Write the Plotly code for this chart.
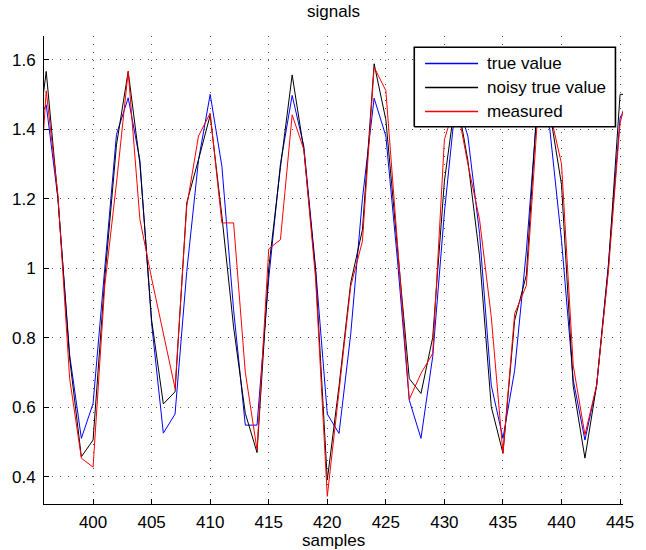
import plotly.graph_objects as go

samples = list(range(395, 447))

true_value = [1.40, 1.47, 1.20, 0.75, 0.51, 0.61, 1.00, 1.385, 1.49, 1.31,
              0.84, 0.525, 0.58, 0.99, 1.31, 1.50, 1.293, 0.88, 0.548, 0.548,
              0.97, 1.30, 1.497, 1.35, 1.00, 0.58, 0.524, 0.81, 1.20, 1.489,
              1.38, 1.02, 0.62, 0.51, 0.745, 1.16, 1.49, 1.38, 1.10, 0.663,
              0.51, 0.706, 1.05, 1.49, 1.40, 1.08, 0.678, 0.505, 0.663, 1.01,
              1.432, 1.50]

noisy_true_value = [1.30, 1.566, 1.20, 0.74, 0.457, 0.505, 0.97, 1.355, 1.566, 1.30,
                    0.85, 0.609, 0.644, 1.188, 1.312, 1.44, 1.15, 0.83, 0.582, 0.469,
                    1.00, 1.29, 1.556, 1.34, 0.99, 0.39, 0.66, 0.958, 1.11, 1.588,
                    1.427, 1.05, 0.682, 0.639, 0.80, 1.25, 1.50, 1.31, 1.035, 0.601,
                    0.467, 0.85, 0.98, 1.52, 1.45, 1.24, 0.66, 0.453, 0.663, 1.00,
                    1.50, 1.50]

measured = [1.00, 1.51, 1.21, 0.682, 0.453, 0.427, 0.95, 1.245, 1.566, 1.14,
            0.97, 0.81, 0.654, 1.178, 1.38, 1.446, 1.13, 1.13, 0.70, 0.477,
            1.055, 1.082, 1.441, 1.341, 0.97, 0.343, 0.64, 0.948, 1.077, 1.578,
            1.511, 1.08, 0.622, 0.697, 0.754, 1.37, 1.48, 1.30, 1.14, 0.86,
            0.467, 0.869, 0.95, 1.46, 1.45, 1.30, 0.72, 0.52, 0.663, 0.99,
            1.417, 1.55]

series_names = ["true value", "noisy true value", "measured"]
series_colors = ["rgb(0,0,255)", "rgb(0,0,0)", "rgb(255,0,0)"]
series_values = [true_value, noisy_true_value, measured]

x_ticks = [400, 405, 410, 415, 420, 425, 430, 435, 440, 445]
y_ticks = [0.4, 0.6, 0.8, 1.0, 1.2, 1.4, 1.6]
y_tick_labels = ["0.4", "0.6", "0.8", "1", "1.2", "1.4", "1.6"]

FONT = "Liberation Sans, Arial, Helvetica, sans-serif"

# plot area in pixels
L, R, T, B = 41, 631, 36, 504
W, H = 646, 550

# legend box geometry (pixels)
LEG_X0, LEG_X1, LEG_Y0, LEG_Y1 = 418.3, 623.3, 47.3, 126.7
LEG_LINE_X0, LEG_LINE_X1, LEG_TEXT_X = 429.3, 483.3, 490
LEG_ROWS = [63.5, 87.5, 111.5]


def px(xp):
    return (xp - L) / (R - L)


def py(yp):
    return (B - yp) / (B - T)


fig = go.Figure()
for name, color, vals in zip(series_names, series_colors, series_values):
    fig.add_trace(go.Scatter(x=samples, y=vals, mode="lines", name=name,
                             showlegend=False, hoverinfo="skip",
                             line=dict(color=color, width=1)))

# legend drawn on an overlay pixel-space axis, above the data
fig.add_trace(go.Scatter(x=[LEG_X0, LEG_X1, LEG_X1, LEG_X0, LEG_X0],
                         y=[LEG_Y1, LEG_Y1, LEG_Y0, LEG_Y0, LEG_Y1],
                         mode="lines", fill="toself", fillcolor="white",
                         line=dict(color="black", width=1.6),
                         xaxis="x2", yaxis="y2", showlegend=False, hoverinfo="skip"))
for color, row in zip(series_colors, LEG_ROWS):
    fig.add_trace(go.Scatter(x=[LEG_LINE_X0, LEG_LINE_X1], y=[row, row], mode="lines",
                             line=dict(color=color, width=1.3),
                             xaxis="x2", yaxis="y2", showlegend=False, hoverinfo="skip"))

axis_common = dict(
    showline=True, linecolor="black", linewidth=1,
    ticks="inside", ticklen=5, tickcolor="black", tickwidth=1,
    showgrid=True, gridcolor="#555555", gridwidth=1, griddash="1px,7px",
    zeroline=False, mirror=False,
    tickfont=dict(family=FONT, size=17, color="black"),
)

annotations = []
for name, row in zip(series_names, LEG_ROWS):
    annotations.append(dict(text=name, x=px(LEG_TEXT_X), y=py(row), xref="paper", yref="paper",
                            xanchor="left", yanchor="middle", showarrow=False,
                            font=dict(family=FONT, size=17, color="black")))
annotations.append(dict(text="signals", x=0.5, y=py(12), xref="paper", yref="paper",
                        xanchor="center", yanchor="middle", showarrow=False,
                        font=dict(family=FONT, size=17, color="black")))
annotations.append(dict(text="samples", x=0.5, y=py(540), xref="paper", yref="paper",
                        xanchor="center", yanchor="middle", showarrow=False,
                        font=dict(family=FONT, size=17, color="black")))

fig.update_layout(
    width=W, height=H,
    margin=dict(l=L, r=W - R, t=T, b=H - B),
    paper_bgcolor="white", plot_bgcolor="white",
    showlegend=False,
    xaxis=dict(range=[395.81, 445.25], tickvals=x_ticks, ticklabelstandoff=3, **axis_common),
    yaxis=dict(range=[0.321, 1.668], tickvals=y_ticks, ticktext=y_tick_labels,
               ticklabelstandoff=4, **axis_common),
    xaxis2=dict(overlaying="x", anchor="y2", range=[L, R], visible=False, fixedrange=True),
    yaxis2=dict(overlaying="y", anchor="x2", range=[B, T], visible=False, fixedrange=True),
    annotations=annotations,
)

fig.write_html("out.html")
